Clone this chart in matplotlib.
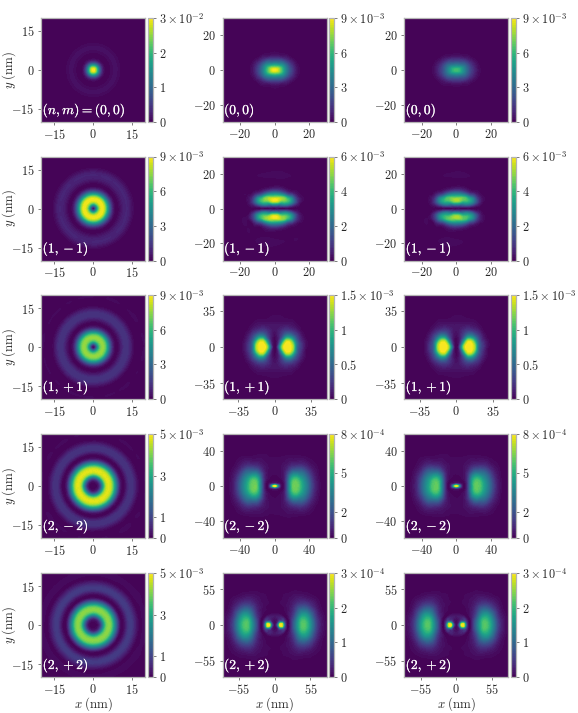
import numpy as np
import matplotlib
matplotlib.use("Agg")
import matplotlib.pyplot as plt
import matplotlib.patheffects as pe
from matplotlib.tri import Triangulation, UniformTriRefiner

plt.rcParams['mathtext.fontset'] = 'cm'
plt.rcParams['font.family'] = ['DejaVu Serif']

# ---------- data (fractions of each panel's colour-bar maximum) ----------
first_label = r'$(n,m)=(0,0)$'
row_labels = [r'$(0,0)$', r'$(1,-1)$', r'$(1,+1)$', r'$(2,-2)$', r'$(2,+2)$']

# colour-bar maxima and ticks
left_vmax = [3e-2, 9e-3, 9e-3, 5e-3, 5e-3]
left_ticks = [[0, 1, 2, 3], [0, 3, 6, 9], [0, 3, 6, 9], [0, 1, 3, 5], [0, 1, 3, 5]]
left_exp = [-2, -3, -3, -3, -3]
mid_vmax = [9e-3, 6e-3, 1.5e-3, 8e-4, 3e-4]
mid_ticks = [[0, 3, 6, 9], [0, 2, 4, 6], [0, 0.5, 1, 1.5], [0, 2, 5, 8], [0, 1, 2, 3]]
mid_exp = [-3, -3, -3, -4, -4]

# axis half-widths and position ticks
left_lim = 20
left_axis_ticks = [-15, 0, 15]
mid_lim = [30, 30, 50, 60, 80]
mid_axis_ticks = [[-20, 0, 20], [-20, 0, 20], [-35, 0, 35], [-40, 0, 40], [-55, 0, 55]]

# peak brightness of the right column relative to the middle column
right_gain = [0.70, 0.88, 1.0, 0.97, 1.0]

# left column: radial profiles, r = 0..20 nm then 22 and 29 nm
radial_r = [0, 1, 2, 3, 4, 5, 6, 7, 8, 9, 10, 11, 12, 13, 14, 15, 16, 17, 18, 19, 20, 22, 29]
profile_00 = [1, .82, .45, .16, .03, .0, .005, .02, .035, .035, .02, .01, .003, .0, .002, .004, .004, .002, 0, 0, 0, 0, 0]
profile_1m = [.02, .3, .72, .95, .93, .68, .38, .15, .03, 0, .02, .06, .09, .1, .07, .03, .005, .0, .005, .01, .01, 0, 0]
profile_1p = [.01, .2, .58, .8, .82, .65, .38, .15, .03, .0, .03, .09, .14, .14, .1, .04, .005, 0, .005, .015, .015, 0, 0]
profile_2m = [.0, .01, .05, .25, .6, .88, .95, .85, .6, .33, .1, .01, .01, .08, .14, .14, .09, .03, .005, .005, .015, 0, 0]
profile_2p = [.0, .01, .04, .2, .5, .75, .82, .73, .5, .26, .06, .0, .03, .11, .17, .15, .09, .03, .0, .015, .025, 0, 0]
left_profiles = [profile_00, profile_1m, profile_1p, profile_2m, profile_2p]
iso_theta = [0, 15, 30, 45, 60, 75, 90]

# middle column: value tables, rows = radius (nm), columns = angle from the x axis (deg)
r_00 = [0, 1, 2, 3, 4, 6, 8, 10, 12, 14, 18, 24, 44]
th_00 = [0, 30, 60, 90]
tab_00 = [[1, 1, 1, 1],
          [.97, .95, .92, .9],
          [.9, .86, .76, .72],
          [.8, .74, .6, .56],
          [.7, .62, .46, .42],
          [.48, .42, .27, .2],
          [.3, .23, .1, .07],
          [.17, .1, .03, .02],
          [.07, .03, 0, 0],
          [.02, 0, 0, 0],
          [0, 0, 0, 0],
          [0, 0, 0, 0],
          [0, 0, 0, 0]]

r_1m = [0, 2, 4, 5, 6, 8, 10, 12, 14, 18, 22, 44]
th_1m = [0, 15, 30, 45, 60, 90]
tab_1m = [[0, 0, 0, 0, 0, 0],
          [0, .05, .1, .18, .28, .35],
          [0, .12, .32, .5, .72, .9],
          [0, .18, .45, .65, .85, 1],
          [0, .25, .57, .75, .9, .9],
          [0, .32, .68, .8, .7, .55],
          [0, .3, .62, .45, .3, .22],
          [0, .2, .36, .15, .07, .05],
          [0, .09, .12, .03, .01, 0],
          [0, .01, .01, 0, .005, .02],
          [0, 0, 0, .01, .015, .012],
          [0, 0, 0, 0, 0, 0]]

r_1p = [0, 2, 4, 6, 8, 10, 12, 14, 16, 18, 20, 24, 28, 34, 72]
th_1p = [0, 15, 30, 45, 60, 90]
tab_1p = [[0, 0, 0, 0, 0, 0],
          [.05, .04, .02, .01, 0, 0],
          [.3, .25, .15, .07, .03, 0],
          [.65, .55, .35, .17, .06, .01],
          [.9, .8, .55, .28, .1, .01],
          [1, .95, .7, .35, .13, .02],
          [1, 1, .8, .38, .16, .03],
          [1, 1, .8, .4, .17, .04],
          [.95, .9, .68, .36, .17, .05],
          [.8, .72, .52, .3, .15, .05],
          [.5, .48, .36, .22, .12, .05],
          [.2, .18, .16, .1, .06, .03],
          [.07, .06, .05, .04, .03, .02],
          [0, 0, 0, 0, 0, 0],
          [0, 0, 0, 0, 0, 0]]

r_2m = [0, 1, 2, 4, 6, 9, 12, 15, 18, 21, 24, 27, 30, 35, 40, 45, 50, 86]
th_2m = [0, 15, 30, 45, 60, 90]
tab_2m = [[1, 1, 1, 1, 1, 1],
          [.95, .92, .88, .82, .78, .75],
          [.8, .7, .55, .42, .34, .3],
          [.4, .28, .14, .06, .04, .03],
          [.1, .07, .03, .01, .01, .01],
          [0, 0, 0, 0, 0, 0],
          [.08, .06, .04, .03, .02, .01],
          [.3, .25, .15, .06, .03, .02],
          [.55, .5, .3, .12, .04, .02],
          [.75, .68, .45, .18, .05, .02],
          [.78, .74, .5, .2, .06, .02],
          [.75, .7, .48, .2, .06, .02],
          [.65, .6, .4, .17, .05, .02],
          [.48, .44, .3, .1, .04, .01],
          [.3, .27, .18, .06, .02, .01],
          [.13, .12, .08, .03, .01, .01],
          [.04, .04, .03, .01, 0, 0],
          [0, 0, 0, 0, 0, 0]]

r_2p = [0, 3, 6, 8, 10, 12, 14, 17, 20, 25, 30, 35, 40, 44, 48, 55, 62, 70, 80, 114]
th_2p = [0, 10, 20, 35, 50, 70, 90]
tab_2p = [[.02, .02, .02, .02, .02, .02, .02],
          [.12, .1, .08, .05, .03, .02, .02],
          [.55, .5, .35, .15, .06, .03, .02],
          [.95, .85, .6, .22, .08, .04, .03],
          [1, .95, .65, .25, .1, .05, .04],
          [.85, .8, .5, .15, .1, .07, .06],
          [.5, .42, .28, .15, .1, .07, .06],
          [.1, .1, .1, .08, .05, .03, .03],
          [0, 0, 0, 0, 0, 0, 0],
          [.1, .09, .06, .03, .01, .01, .01],
          [.3, .27, .18, .08, .03, .01, .01],
          [.5, .45, .32, .13, .05, .02, .01],
          [.68, .63, .46, .2, .06, .02, .01],
          [.74, .69, .52, .24, .07, .02, .01],
          [.7, .65, .52, .24, .07, .02, .01],
          [.5, .47, .38, .18, .06, .01, .01],
          [.25, .23, .2, .1, .03, .01, 0],
          [.08, .07, .06, .04, .01, 0, 0],
          [.01, .01, .01, .01, 0, 0, 0],
          [0, 0, 0, 0, 0, 0, 0]]

mid_tables = [(r_00, th_00, tab_00), (r_1m, th_1m, tab_1m), (r_1p, th_1p, tab_1p),
              (r_2m, th_2m, tab_2m), (r_2p, th_2p, tab_2p)]


# ---------- helpers ----------
def field_triangulation(r, th, table):
    r = np.asarray(r, float)
    th = np.asarray(th, float)
    t = np.asarray(table, float)
    xs, ys, zs = [0.0], [0.0], [t[0].mean()]
    for i, ri in enumerate(r[1:], start=1):
        for j, a in enumerate(th):
            for ang in {a, 180 - a, 180 + a, (360 - a) % 360}:
                xs.append(ri * np.cos(np.radians(ang)))
                ys.append(ri * np.sin(np.radians(ang)))
                zs.append(t[i, j])
    tri = Triangulation(xs, ys)
    return UniformTriRefiner(tri).refine_field(np.array(zs), subdiv=3)


W, H = 578, 713
fig = plt.figure(figsize=(W / 100, H / 100), dpi=100)
GRAY = '#b4b4b4'
TXT = '#262626'
FS = 8.8
row_tops = [18, 156.5, 295, 434, 573]
col_lefts = [41.3, 222.7, 404.3]
SIZE = 104
CB_GAP, CB_W = 2.4, 5.4


def fmt_tick(v):
    return rf'${v:g}$'


def panel(col, row, tri, z, vmax, lim, aticks, cticks, exp, label):
    left, top = col_lefts[col], row_tops[row]
    ax = fig.add_axes([left / W, 1 - (top + SIZE) / H, SIZE / W, SIZE / H])
    levels = np.linspace(0, vmax, 61)
    cs = ax.tricontourf(tri, np.clip(z * vmax, 0, vmax * 0.9995), levels=levels, cmap='viridis')
    ax.set_facecolor(plt.cm.viridis(0.0))
    ax.set_xlim(-lim, lim)
    ax.set_ylim(-lim, lim)
    ax.set_xticks(aticks)
    ax.set_yticks(aticks)
    ax.set_xticklabels([fmt_tick(v) for v in aticks], fontsize=FS, color=TXT)
    ax.set_yticklabels([fmt_tick(v) for v in aticks], fontsize=FS, color=TXT)
    ax.tick_params(length=2.5, width=0.6, color='#666666', pad=2.5)
    ax.tick_params(axis='x', pad=1.5)
    for s in ax.spines.values():
        s.set_color(GRAY)
        s.set_linewidth(0.9)
    ax.text(0.012, 0.025, label, transform=ax.transAxes, color='white', fontsize=9.8, ha='left', va='bottom',
            path_effects=[pe.withStroke(linewidth=0.12, foreground='white')])
    if col == 0:
        ax.set_ylabel(r'$y\;\mathrm{(nm)}$', fontsize=FS + 0.4, color=TXT)
        ax.yaxis.set_label_coords(-0.225, 0.5)
    if row == 4:
        ax.set_xlabel(r'$x\;\mathrm{(nm)}$', fontsize=FS + 0.4, color=TXT, va='center')
        ax.xaxis.set_label_coords(0.5, -0.265)
    cax = fig.add_axes([(left + SIZE + CB_GAP) / W, 1 - (top + SIZE) / H, CB_W / W, SIZE / H])
    cb = fig.colorbar(cs, cax=cax)
    unit = 10.0 ** exp
    cb.set_ticks([v * unit for v in cticks])
    names = [fmt_tick(v) for v in cticks]
    names[-1] = rf'${cticks[-1]:g}\times 10^{{{exp}}}$'
    cb.set_ticklabels(names, fontsize=FS, color=TXT)
    cb.ax.tick_params(length=2, width=0.6, color='#666666', pad=2)
    cb.outline.set_edgecolor(GRAY)
    cb.outline.set_linewidth(0.9)
    cb.ax.minorticks_off()


for row in range(5):
    prof = np.asarray(left_profiles[row], float)
    tri, z = field_triangulation(radial_r, iso_theta, np.tile(prof[:, None], (1, len(iso_theta))))
    panel(0, row, tri, z, left_vmax[row], left_lim, left_axis_ticks, left_ticks[row], left_exp[row],
          first_label if row == 0 else row_labels[row])
    r, th, tab = mid_tables[row]
    tri, z = field_triangulation(r, th, tab)
    panel(1, row, tri, z, mid_vmax[row], mid_lim[row], mid_axis_ticks[row], mid_ticks[row], mid_exp[row], row_labels[row])
    panel(2, row, tri, z * right_gain[row], mid_vmax[row], mid_lim[row], mid_axis_ticks[row], mid_ticks[row], mid_exp[row], row_labels[row])

fig.savefig('out.png', dpi=100)
